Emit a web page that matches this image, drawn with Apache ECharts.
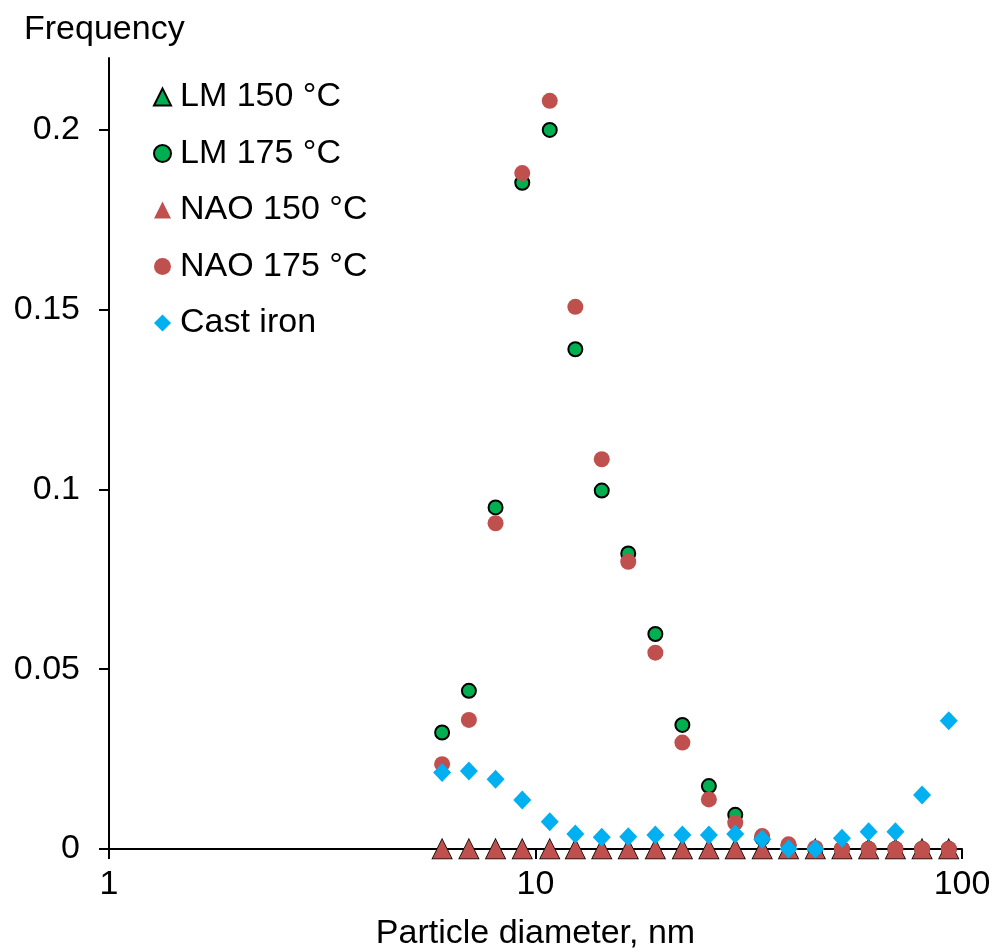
<!DOCTYPE html>
<html>
<head>
<meta charset="utf-8">
<script src="https://cdn.jsdelivr.net/npm/echarts@6/dist/echarts.min.js"></script>
<style>html,body{margin:0;padding:0;background:#fff;}#c{width:993px;height:952px;}</style>
</head>
<body>
<div id="c"></div>
<script>
// Particle diameters (nm)
const diameters = [6.04, 6.98, 8.06, 9.31, 10.8, 12.4, 14.3, 16.5, 19.1, 22.1, 25.5, 29.4, 34.0, 39.2, 45.3, 52.3, 60.4, 69.8, 80.6, 93.1];
const lm150  = [0, 0, 0, 0, 0, 0, 0, 0, 0, 0, 0, 0, 0, 0, 0, 0, 0, 0, 0, 0];
const lm175  = [0.0324, 0.0440, 0.0950, 0.1853, 0.2000, 0.1390, 0.0997, 0.0822, 0.0598, 0.0345, 0.0175, 0.0095, 0.0030, 0.0010, 0, 0, 0, 0, 0, 0];
const nao150 = [0, 0, 0, 0, 0, 0, 0, 0, 0, 0, 0, 0, 0, 0, 0, 0, 0, 0, 0, 0];
const nao175 = [0.0236, 0.0359, 0.0906, 0.1880, 0.2081, 0.1508, 0.1084, 0.0799, 0.0546, 0.0296, 0.0138, 0.0073, 0.0036, 0.0013, 0.0003, 0, 0, 0, 0, 0];
const castIron = [0.0213, 0.0217, 0.0194, 0.0136, 0.0076, 0.0042, 0.0033, 0.0034, 0.0039, 0.0039, 0.0039, 0.0042, 0.0027, 0, 0, 0.0030, 0.0048, 0.0048, 0.0150, 0.0357];
const yTicks = [0, 0.05, 0.1, 0.15, 0.2];
const xTicks = [1, 10, 100];

const FONT = 'Liberation Sans';
const FS = 34;
const pairs = arr => diameters.map((d, i) => [d, arr[i]]);

const chart = echarts.init(document.getElementById('c'), null, {renderer: 'canvas'});
chart.setOption({
  animation: false,
  backgroundColor: '#fff',
  textStyle: {fontFamily: FONT},
  grid: {left: 109, right: 31, top: 58, bottom: 103, containLabel: false, outerBoundsMode: 'none'},
  graphic: [{
    type: 'text', left: 24, top: 13,
    style: {text: 'Frequency', font: FS + 'px "Liberation Sans"', fill: '#000'}
  }],
  legend: {
    orient: 'vertical', left: 153, top: 80, padding: 0,
    itemWidth: 17, itemHeight: 17, itemGap: 22.5,
    textStyle: {fontFamily: FONT, fontSize: FS, lineHeight: 34, color: '#000', padding: [0, 0, 0, 4]},
    data: ['LM 150 °C', 'LM 175 °C', 'NAO 150 °C', 'NAO 175 °C', 'Cast iron']
  },
  xAxis: {
    type: 'log', logBase: 10, min: 1, max: 100,
    name: 'Particle diameter, nm', nameLocation: 'middle', nameGap: 68,
    nameTextStyle: {fontFamily: FONT, fontSize: FS, color: '#000'},
    axisLine: {lineStyle: {color: '#000', width: 2}},
    axisTick: {show: true, length: 10, lineStyle: {color: '#000', width: 2}},
    minorTick: {show: false},
    axisLabel: {fontFamily: FONT, fontSize: FS, color: '#000', margin: 19,
      customValues: xTicks, formatter: v => String(Math.round(v))},
    splitLine: {show: false}
  },
  yAxis: {
    type: 'value', min: 0, max: 0.22,
    axisLine: {show: true, lineStyle: {color: '#000', width: 2}},
    axisTick: {show: true, length: 10, customValues: yTicks, lineStyle: {color: '#000', width: 2}},
    axisLabel: {fontFamily: FONT, fontSize: FS, color: '#000', margin: 29,
      customValues: yTicks, formatter: v => String(+v.toFixed(2))},
    splitLine: {show: false}
  },
  series: [
    {name: 'LM 150 °C', type: 'scatter', symbol: 'triangle', symbolSize: 19, data: pairs(lm150),
      itemStyle: {color: '#00B050', borderColor: '#000', borderWidth: 1.5, opacity: 1}, z: 2},
    {name: 'LM 175 °C', type: 'scatter', symbol: 'circle', symbolSize: 14, data: pairs(lm175),
      itemStyle: {color: '#00B050', borderColor: '#000', borderWidth: 2, opacity: 1}, z: 3},
    {name: 'NAO 150 °C', type: 'scatter', symbol: 'triangle', symbolSize: 19, data: pairs(nao150),
      itemStyle: {color: '#C0504D', opacity: 1}, z: 4},
    {name: 'NAO 175 °C', type: 'scatter', symbol: 'circle', symbolSize: 16, data: pairs(nao175),
      itemStyle: {color: '#C0504D', opacity: 1}, z: 5},
    {name: 'Cast iron', type: 'scatter', symbol: 'diamond', symbolSize: [18, 19], data: pairs(castIron),
      itemStyle: {color: '#00B0F0', opacity: 1}, z: 6}
  ]
});
</script>
</body>
</html>
